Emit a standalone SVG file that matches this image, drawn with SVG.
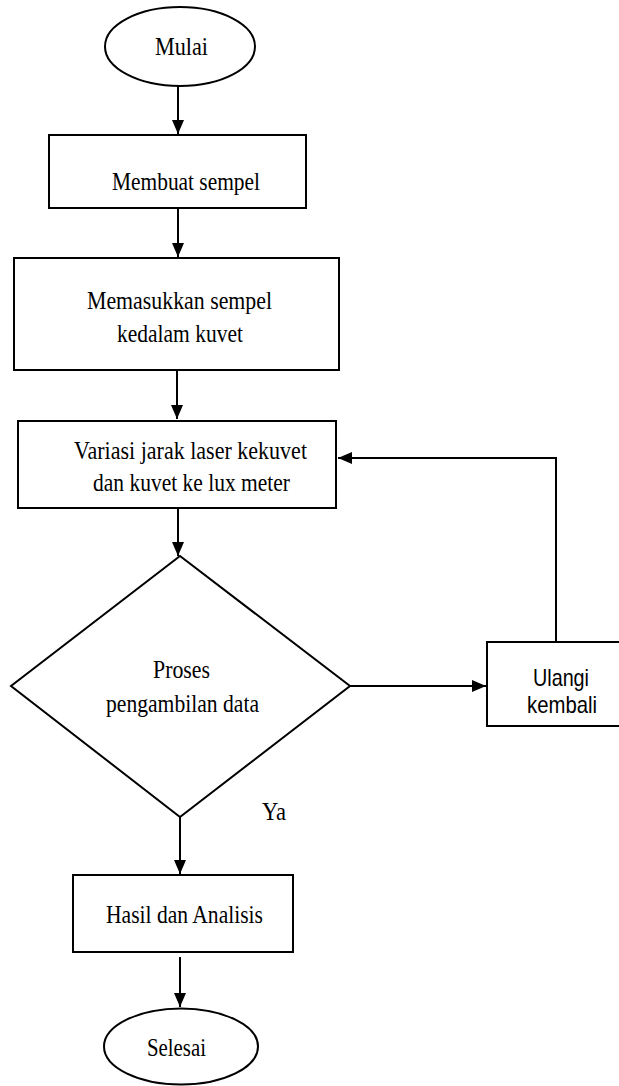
<svg xmlns="http://www.w3.org/2000/svg" width="619" height="1086" viewBox="0 0 619 1086">
<style>
.s{fill:#fff;stroke:#000;stroke-width:2}
.c{fill:none;stroke:#000;stroke-width:2}
.t{font-family:"Liberation Serif","Times New Roman",serif;font-size:26px;fill:#000;text-anchor:middle}
.u{font-family:"Liberation Sans",Arial,sans-serif;font-size:24px;fill:#000;text-anchor:middle}
</style>
<defs>
<marker id="ah" markerWidth="14" markerHeight="12" refX="14" refY="6" orient="auto" markerUnits="userSpaceOnUse">
<path d="M0,0 L14,6 L0,12 Z" fill="#000"/>
</marker>
</defs>
<rect width="619" height="1086" fill="#fff"/>
<g id="connectors">
<line class="c" x1="178" y1="86" x2="178" y2="134" marker-end="url(#ah)"/>
<line class="c" x1="178" y1="208" x2="178" y2="257" marker-end="url(#ah)"/>
<line class="c" x1="177" y1="370" x2="177" y2="419" marker-end="url(#ah)"/>
<line class="c" x1="178" y1="508" x2="178" y2="556" marker-end="url(#ah)"/>
<line class="c" x1="350" y1="686" x2="486" y2="686" marker-end="url(#ah)"/>
<polyline class="c" points="556,642 556,458 338,458" marker-end="url(#ah)"/>
<line class="c" x1="180" y1="817" x2="180" y2="874" marker-end="url(#ah)"/>
<line class="c" x1="180" y1="957" x2="180" y2="1007" marker-end="url(#ah)"/>
</g>
<g id="mulai">
<ellipse class="s" cx="180" cy="46.5" rx="75" ry="39.5"/>
<text class="t" x="181.5" y="55" textLength="53" lengthAdjust="spacingAndGlyphs">Mulai</text>
</g>
<g id="membuat">
<rect class="s" x="49" y="135" width="257" height="73"/>
<text class="t" x="186" y="190" textLength="148" lengthAdjust="spacingAndGlyphs">Membuat sempel</text>
</g>
<g id="memasukkan">
<rect class="s" x="14" y="258" width="325" height="112"/>
<text class="t" x="179.5" y="309" textLength="185" lengthAdjust="spacingAndGlyphs">Memasukkan sempel</text>
<text class="t" x="180" y="342" textLength="126" lengthAdjust="spacingAndGlyphs">kedalam kuvet</text>
</g>
<g id="variasi">
<rect class="s" x="18" y="421" width="318" height="87"/>
<text class="t" x="190.5" y="459" textLength="233" lengthAdjust="spacingAndGlyphs">Variasi jarak laser kekuvet</text>
<text class="t" x="191.5" y="491" textLength="197" lengthAdjust="spacingAndGlyphs">dan kuvet ke lux meter</text>
</g>
<g id="proses">
<polygon class="s" points="180,556 350,686 180,817 11,686"/>
<text class="t" x="181.5" y="678" textLength="57" lengthAdjust="spacingAndGlyphs">Proses</text>
<text class="t" x="182.5" y="712" textLength="153" lengthAdjust="spacingAndGlyphs">pengambilan data</text>
</g>
<g id="ulangi">
<rect class="s" x="487" y="642" width="140" height="84"/>
<text class="u" x="561" y="686" textLength="56" lengthAdjust="spacingAndGlyphs">Ulangi</text>
<text class="u" x="562" y="713" textLength="70" lengthAdjust="spacingAndGlyphs">kembali</text>
</g>
<g id="label-ya">
<text class="t" x="274" y="820" textLength="24" lengthAdjust="spacingAndGlyphs">Ya</text>
</g>
<g id="hasil">
<rect class="s" x="73" y="875" width="220" height="77"/>
<text class="t" x="184.5" y="923" textLength="157" lengthAdjust="spacingAndGlyphs">Hasil dan Analisis</text>
</g>
<g id="selesai">
<ellipse class="s" cx="181" cy="1046.5" rx="77" ry="38"/>
<text class="t" x="176.5" y="1056" textLength="59" lengthAdjust="spacingAndGlyphs">Selesai</text>
</g>
</svg>
